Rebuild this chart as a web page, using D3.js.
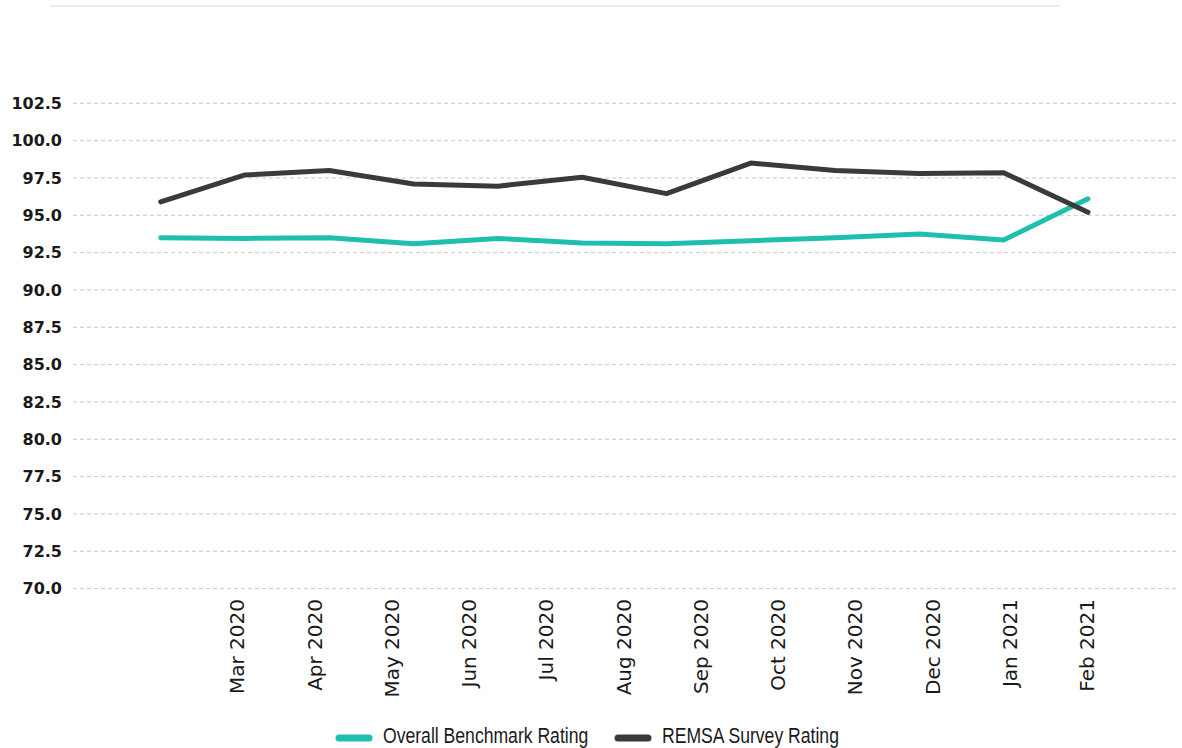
<!DOCTYPE html>
<html>
<head>
<meta charset="utf-8">
<script src="https://cdn.jsdelivr.net/npm/d3@7"></script>
<style>
  html, body { margin: 0; padding: 0; background: #ffffff; }
  svg { display: block; }
</style>
</head>
<body>
<svg id="chart" width="1182" height="748"></svg>
<script>
// ---- data ----
const tickLabels = ["Mar 2020", "Apr 2020", "May 2020", "Jun 2020", "Jul 2020", "Aug 2020",
                    "Sep 2020", "Oct 2020", "Nov 2020", "Dec 2020", "Jan 2021", "Feb 2021"];
const yTicks = [70.0, 72.5, 75.0, 77.5, 80.0, 82.5, 85.0, 87.5, 90.0, 92.5, 95.0, 97.5, 100.0, 102.5];
const benchmark = [93.5, 93.45, 93.5, 93.1, 93.45, 93.15, 93.1, 93.3, 93.5, 93.75, 93.35, 96.1];
const remsa     = [95.9, 97.7, 98.0, 97.1, 96.95, 97.55, 96.45, 98.5, 98.0, 97.8, 97.85, 95.2];
const seriesNames = ["Overall Benchmark Rating", "REMSA Survey Rating"];
const seriesColors = ["#1ebfae", "#3a3a3a"];

// ---- layout ----
const svg = d3.select("#chart");
const plotLeft = 73, plotRight = 1176;

const y = d3.scaleLinear().domain([70, 102.5]).range([588.6, 103.3]);
const xTick = d3.scalePoint().domain(["", ...tickLabels]).range([160, 1087]);
const xData = d3.scalePoint().domain(d3.range(benchmark.length)).range([160.7, 1088]);

// faint top rule
svg.append("line")
  .attr("x1", 50).attr("x2", 1060).attr("y1", 6).attr("y2", 6)
  .attr("stroke", "#ececec").attr("stroke-width", 2);

// grid lines
svg.append("g").selectAll("line").data(yTicks).join("line")
  .attr("x1", plotLeft).attr("x2", plotRight)
  .attr("y1", d => y(d)).attr("y2", d => y(d))
  .attr("stroke", "#c8c8c8").attr("stroke-width", 1)
  .attr("stroke-dasharray", "4,3");

// y labels
svg.append("g").selectAll("text").data(yTicks).join("text")
  .attr("x", 62).attr("y", d => y(d)).attr("dy", "0.35em")
  .attr("text-anchor", "end")
  .attr("font-family", "DejaVu Sans, sans-serif")
  .attr("font-weight", "bold").attr("font-size", 16)
  .attr("fill", "#1a1a1a")
  .text(d => d.toFixed(1));

// x labels
svg.append("g").selectAll("text").data(tickLabels).join("text")
  .attr("transform", d => `translate(${xTick(d)},599) rotate(-90)`)
  .attr("dy", "0.35em")
  .attr("text-anchor", "end")
  .attr("font-family", "DejaVu Sans, sans-serif")
  .attr("font-size", 20)
  .attr("fill", "#1a1a1a")
  .text(d => d);

// lines
const line = d3.line().x((d, i) => xData(i)).y(d => y(d));
[benchmark, remsa].forEach((s, k) => {
  svg.append("path").datum(s)
    .attr("d", line)
    .attr("fill", "none")
    .attr("stroke", seriesColors[k])
    .attr("stroke-width", 5)
    .attr("stroke-linejoin", "round")
    .attr("stroke-linecap", "round");
});

// legend
const legendX = [336, 615];
const lg = svg.append("g");
seriesNames.forEach((name, k) => {
  lg.append("line")
    .attr("x1", legendX[k] + 3).attr("x2", legendX[k] + 33)
    .attr("y1", 738).attr("y2", 738)
    .attr("stroke", seriesColors[k]).attr("stroke-width", 7)
    .attr("stroke-linecap", "round");
  lg.append("text")
    .attr("transform", `translate(${legendX[k] + 47},743) scale(0.8,1)`)
    .attr("font-family", "Liberation Sans, Arial, sans-serif")
    .attr("font-size", 22)
    .attr("fill", "#1a1a1a")
    .text(name);
});
</script>
</body>
</html>
